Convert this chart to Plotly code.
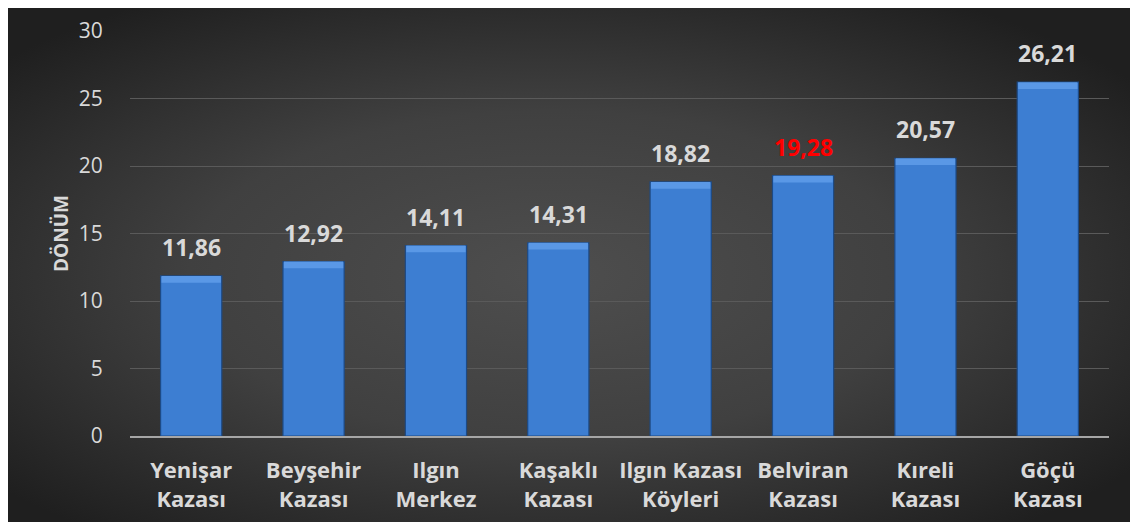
import urllib.parse
import plotly.graph_objects as go

categories = ["Yenişar<br>Kazası", "Beyşehir<br>Kazası", "Ilgın<br>Merkez", "Kaşaklı<br>Kazası",
              "Ilgın Kazası<br>Köyleri", "Belviran<br>Kazası", "Kıreli<br>Kazası", "Göçü<br>Kazası"]
values = [11.86, 12.92, 14.11, 14.31, 18.82, 19.28, 20.57, 26.21]
label_colors = ["#d9d9d9", "#d9d9d9", "#d9d9d9", "#d9d9d9", "#d9d9d9", "#ff0000", "#d9d9d9", "#d9d9d9"]
y_ticks = [0, 5, 10, 15, 20, 25, 30]

# page has an 8px body margin, so the figure is laid out 8px in from the window edge
W, H = 1130, 514
L, R, T, B = 122, 29, 23, 86
pw, ph = W - L - R, H - T - B
BEVEL = 0.5  # height (in axis units) of the lighter bevel band at each bar's top

svg = ('<svg xmlns="http://www.w3.org/2000/svg" width="1130" height="514" viewBox="0 0 1130 514" '
       'preserveAspectRatio="none"><defs><radialGradient id="g" cx="48%" cy="52%" r="64%">'
       '<stop offset="0" stop-color="#4e4e4e"/><stop offset="0.5" stop-color="#404040"/>'
       '<stop offset="1" stop-color="#1f1f1f"/></radialGradient></defs>'
       '<rect width="1130" height="514" fill="url(#g)"/></svg>')
bg = "data:image/svg+xml;charset=utf-8," + urllib.parse.quote(svg)

fig = go.Figure()
fig.add_trace(go.Bar(
    x=categories, y=values, width=0.5,
    marker=dict(color="#3d7ed2", line=dict(color="#1d4a85", width=1.2)),
    hoverinfo="skip",
))
fig.add_trace(go.Bar(
    x=categories, y=[BEVEL] * len(values), base=[v - BEVEL for v in values], width=0.485,
    marker=dict(color="#5a98e6", line=dict(width=0)),
    hoverinfo="skip",
))

for c, v, col in zip(categories, values, label_colors):
    fig.add_annotation(x=c, y=v, text="<b>" + f"{v:.2f}".replace(".", ",") + "</b>",
                       showarrow=False, yanchor="bottom", yshift=11,
                       font=dict(family="Open Sans", size=23, color=col))

fig.add_layout_image(dict(
    source=bg, xref="paper", yref="paper",
    x=-L / pw, y=(H - B) / ph, sizex=W / pw, sizey=H / ph,
    xanchor="left", yanchor="top", sizing="stretch", layer="below",
))

fig.update_layout(
    width=W, height=H,
    margin=dict(l=L, r=R, t=T, b=B, pad=0, autoexpand=False),
    paper_bgcolor="#2a2a2a", plot_bgcolor="rgba(0,0,0,0)",
    showlegend=False, barmode="overlay",
    xaxis=dict(showline=True, linecolor="#a6a6a6", linewidth=2, showgrid=False, automargin=False,
               tickfont=dict(family="Open Sans", size=22, color="#d9d9d9", weight="bold"),
               ticks="outside", ticklen=14, tickcolor="rgba(0,0,0,0)"),
    yaxis=dict(range=[0, 30], tickvals=y_ticks, showgrid=True, gridcolor="#5a5a5a", gridwidth=1,
               zeroline=False, showline=False, automargin=False,
               tickfont=dict(family="Open Sans", size=21, color="#d9d9d9"),
               ticks="outside", ticklen=22, tickcolor="rgba(0,0,0,0)",
               title=dict(text="<b>DÖNÜM</b>", standoff=5,
                          font=dict(family="Open Sans", size=19, color="#d9d9d9"))),
)

fig.write_html("out.html")
